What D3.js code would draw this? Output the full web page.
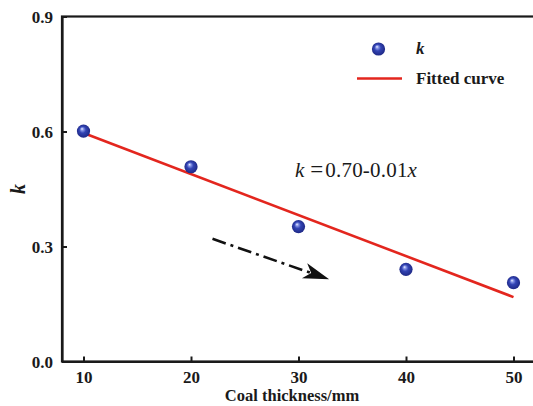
<!DOCTYPE html>
<html>
<head>
<meta charset="utf-8">
<script src="https://cdn.jsdelivr.net/npm/d3@7/dist/d3.min.js"></script>
<style>
  html, body { margin: 0; padding: 0; background: #fff; }
  svg { display: block; }
  text { font-family: "Liberation Serif", "Times New Roman", serif; fill: #1a1a1a; }
</style>
</head>
<body>
<svg id="chart" width="533" height="406"></svg>
<script>
// Measured k for each coal thickness (mm)
const thickness = [10, 20, 30, 40, 50];
const kValues = [0.601, 0.508, 0.352, 0.2405, 0.2056];

// Linear fit k = a + b*x, drawn over the data range
const fitIntercept = 0.703;
const fitSlope = -0.0107;
const fitRange = [10, 50];

// Axis ticks
const xTicks = [10, 20, 30, 40, 50];
const yTicks = [0.0, 0.3, 0.6, 0.9];

// Trend arrow (data units)
const arrowFrom = [22.0, 0.32];
const arrowTo = [32.85, 0.2145];

const svg = d3.select("#chart");
const margin = { left: 62, top: 16.5, right: -2, bottom: 44.5 };
const W = 533, H = 406;

const x = d3.scaleLinear().domain([8, 52]).range([margin.left, W - margin.right]);
const y = d3.scaleLinear().domain([0, 0.9]).range([H - margin.bottom, margin.top]);

// Sphere-like marker gradient
const defs = svg.append("defs");
const grad = defs.append("radialGradient")
  .attr("id", "ball").attr("cx", "0.5").attr("cy", "0.5").attr("r", "0.55")
  .attr("fx", "0.38").attr("fy", "0.32");
grad.append("stop").attr("offset", "0%").attr("stop-color", "#f4f6ff");
grad.append("stop").attr("offset", "18%").attr("stop-color", "#8a98e8");
grad.append("stop").attr("offset", "45%").attr("stop-color", "#3344b4");
grad.append("stop").attr("offset", "100%").attr("stop-color", "#1c2580");

// Plot frame (right side runs past the canvas edge)
svg.append("rect")
  .attr("x", x.range()[0]).attr("y", y.range()[1])
  .attr("width", x.range()[1] - x.range()[0])
  .attr("height", y.range()[0] - y.range()[1])
  .attr("fill", "none").attr("stroke", "#1a1a1a").attr("stroke-width", 2.2);

// Axes with inward ticks
const xAxis = d3.axisBottom(x).tickValues(xTicks).tickSizeInner(-5).tickSizeOuter(0).tickPadding(9).tickFormat(d3.format("d"));
const gx = svg.append("g").attr("transform", `translate(0,${y.range()[0]})`).call(xAxis);
const yAxis = d3.axisLeft(y).tickValues(yTicks).tickSizeInner(-5).tickSizeOuter(0).tickPadding(9).tickFormat(d3.format(".1f"));
const gy = svg.append("g").attr("transform", `translate(${x.range()[0]},0)`).call(yAxis);

[gx, gy].forEach(g => {
  g.select(".domain").attr("stroke", "#1a1a1a").attr("stroke-width", 2.2);
  g.selectAll(".tick line").attr("stroke", "#1a1a1a").attr("stroke-width", 2);
  g.selectAll(".tick text")
    .attr("font-family", "'Liberation Serif', serif")
    .attr("font-size", 17).attr("font-weight", "bold").attr("fill", "#1a1a1a");
});
gy.selectAll(".tick text").attr("dy", "0.36em");

// Axis titles
svg.append("text")
  .attr("x", 292).attr("y", 401)
  .attr("text-anchor", "middle").attr("font-size", 16.5).attr("font-weight", "bold")
  .text("Coal thickness/mm");
svg.append("text")
  .attr("transform", `translate(25,${(y(0) + y(0.9)) / 2}) rotate(-90)`)
  .attr("text-anchor", "middle").attr("font-size", 20).attr("font-weight", "bold")
  .attr("font-style", "italic")
  .text("k");

// Fitted line
const fitPts = fitRange.map(v => [v, fitIntercept + fitSlope * v]);
svg.append("path")
  .attr("d", d3.line().x(d => x(d[0])).y(d => y(d[1]))(fitPts))
  .attr("fill", "none").attr("stroke", "#e3261e").attr("stroke-width", 2.6);

// Data points
svg.selectAll("circle.pt")
  .data(thickness.map((t, i) => [t, kValues[i]]))
  .join("circle").attr("class", "pt")
  .attr("cx", d => x(d[0])).attr("cy", d => y(d[1]))
  .attr("r", 6.6).attr("fill", "url(#ball)");

// Equation text
const eq = svg.append("text")
  .attr("x", 295).attr("y", 177).attr("font-size", 21);
eq.append("tspan").attr("font-style", "italic").text("k");
eq.append("tspan").attr("dx", 6).attr("font-size", 23).text("=");
eq.append("tspan").attr("dx", 2).attr("letter-spacing", 0.2)
  .text(`${fitIntercept.toFixed(2)}-${Math.abs(fitSlope).toFixed(2)}`);
eq.append("tspan").attr("font-style", "italic").text("x");

// Trend arrow: dash-dot shaft plus filled head
const ax0 = x(arrowFrom[0]), ay0 = y(arrowFrom[1]);
const ax1 = x(arrowTo[0]), ay1 = y(arrowTo[1]);
const ang = Math.atan2(ay1 - ay0, ax1 - ax0);
const headLen = 26, headBack = 19, headHalf = 8;
svg.append("line")
  .attr("x1", ax0).attr("y1", ay0)
  .attr("x2", ax1 - headBack * Math.cos(ang)).attr("y2", ay1 - headBack * Math.sin(ang))
  .attr("stroke", "#111").attr("stroke-width", 2.6)
  .attr("stroke-dasharray", "14,5,3,5");
svg.append("path")
  .attr("transform", `translate(${ax1},${ay1}) rotate(${ang * 180 / Math.PI})`)
  .attr("d", `M0,0 L${-headLen},${-headHalf} L${-headBack},0 L${-headLen},${headHalf} Z`)
  .attr("fill", "#111");

// Legend
const leg = svg.append("g");
leg.append("circle").attr("cx", 378.5).attr("cy", 49).attr("r", 6.6).attr("fill", "url(#ball)");
leg.append("text").attr("x", 416).attr("y", 54).attr("font-size", 17)
  .attr("font-weight", "bold").attr("font-style", "italic").text("k");
leg.append("line").attr("x1", 357).attr("x2", 402).attr("y1", 78.5).attr("y2", 78.5)
  .attr("stroke", "#e3261e").attr("stroke-width", 2.6);
leg.append("text").attr("x", 416).attr("y", 84).attr("font-size", 17)
  .attr("font-weight", "bold").text("Fitted curve");
</script>
</body>
</html>
